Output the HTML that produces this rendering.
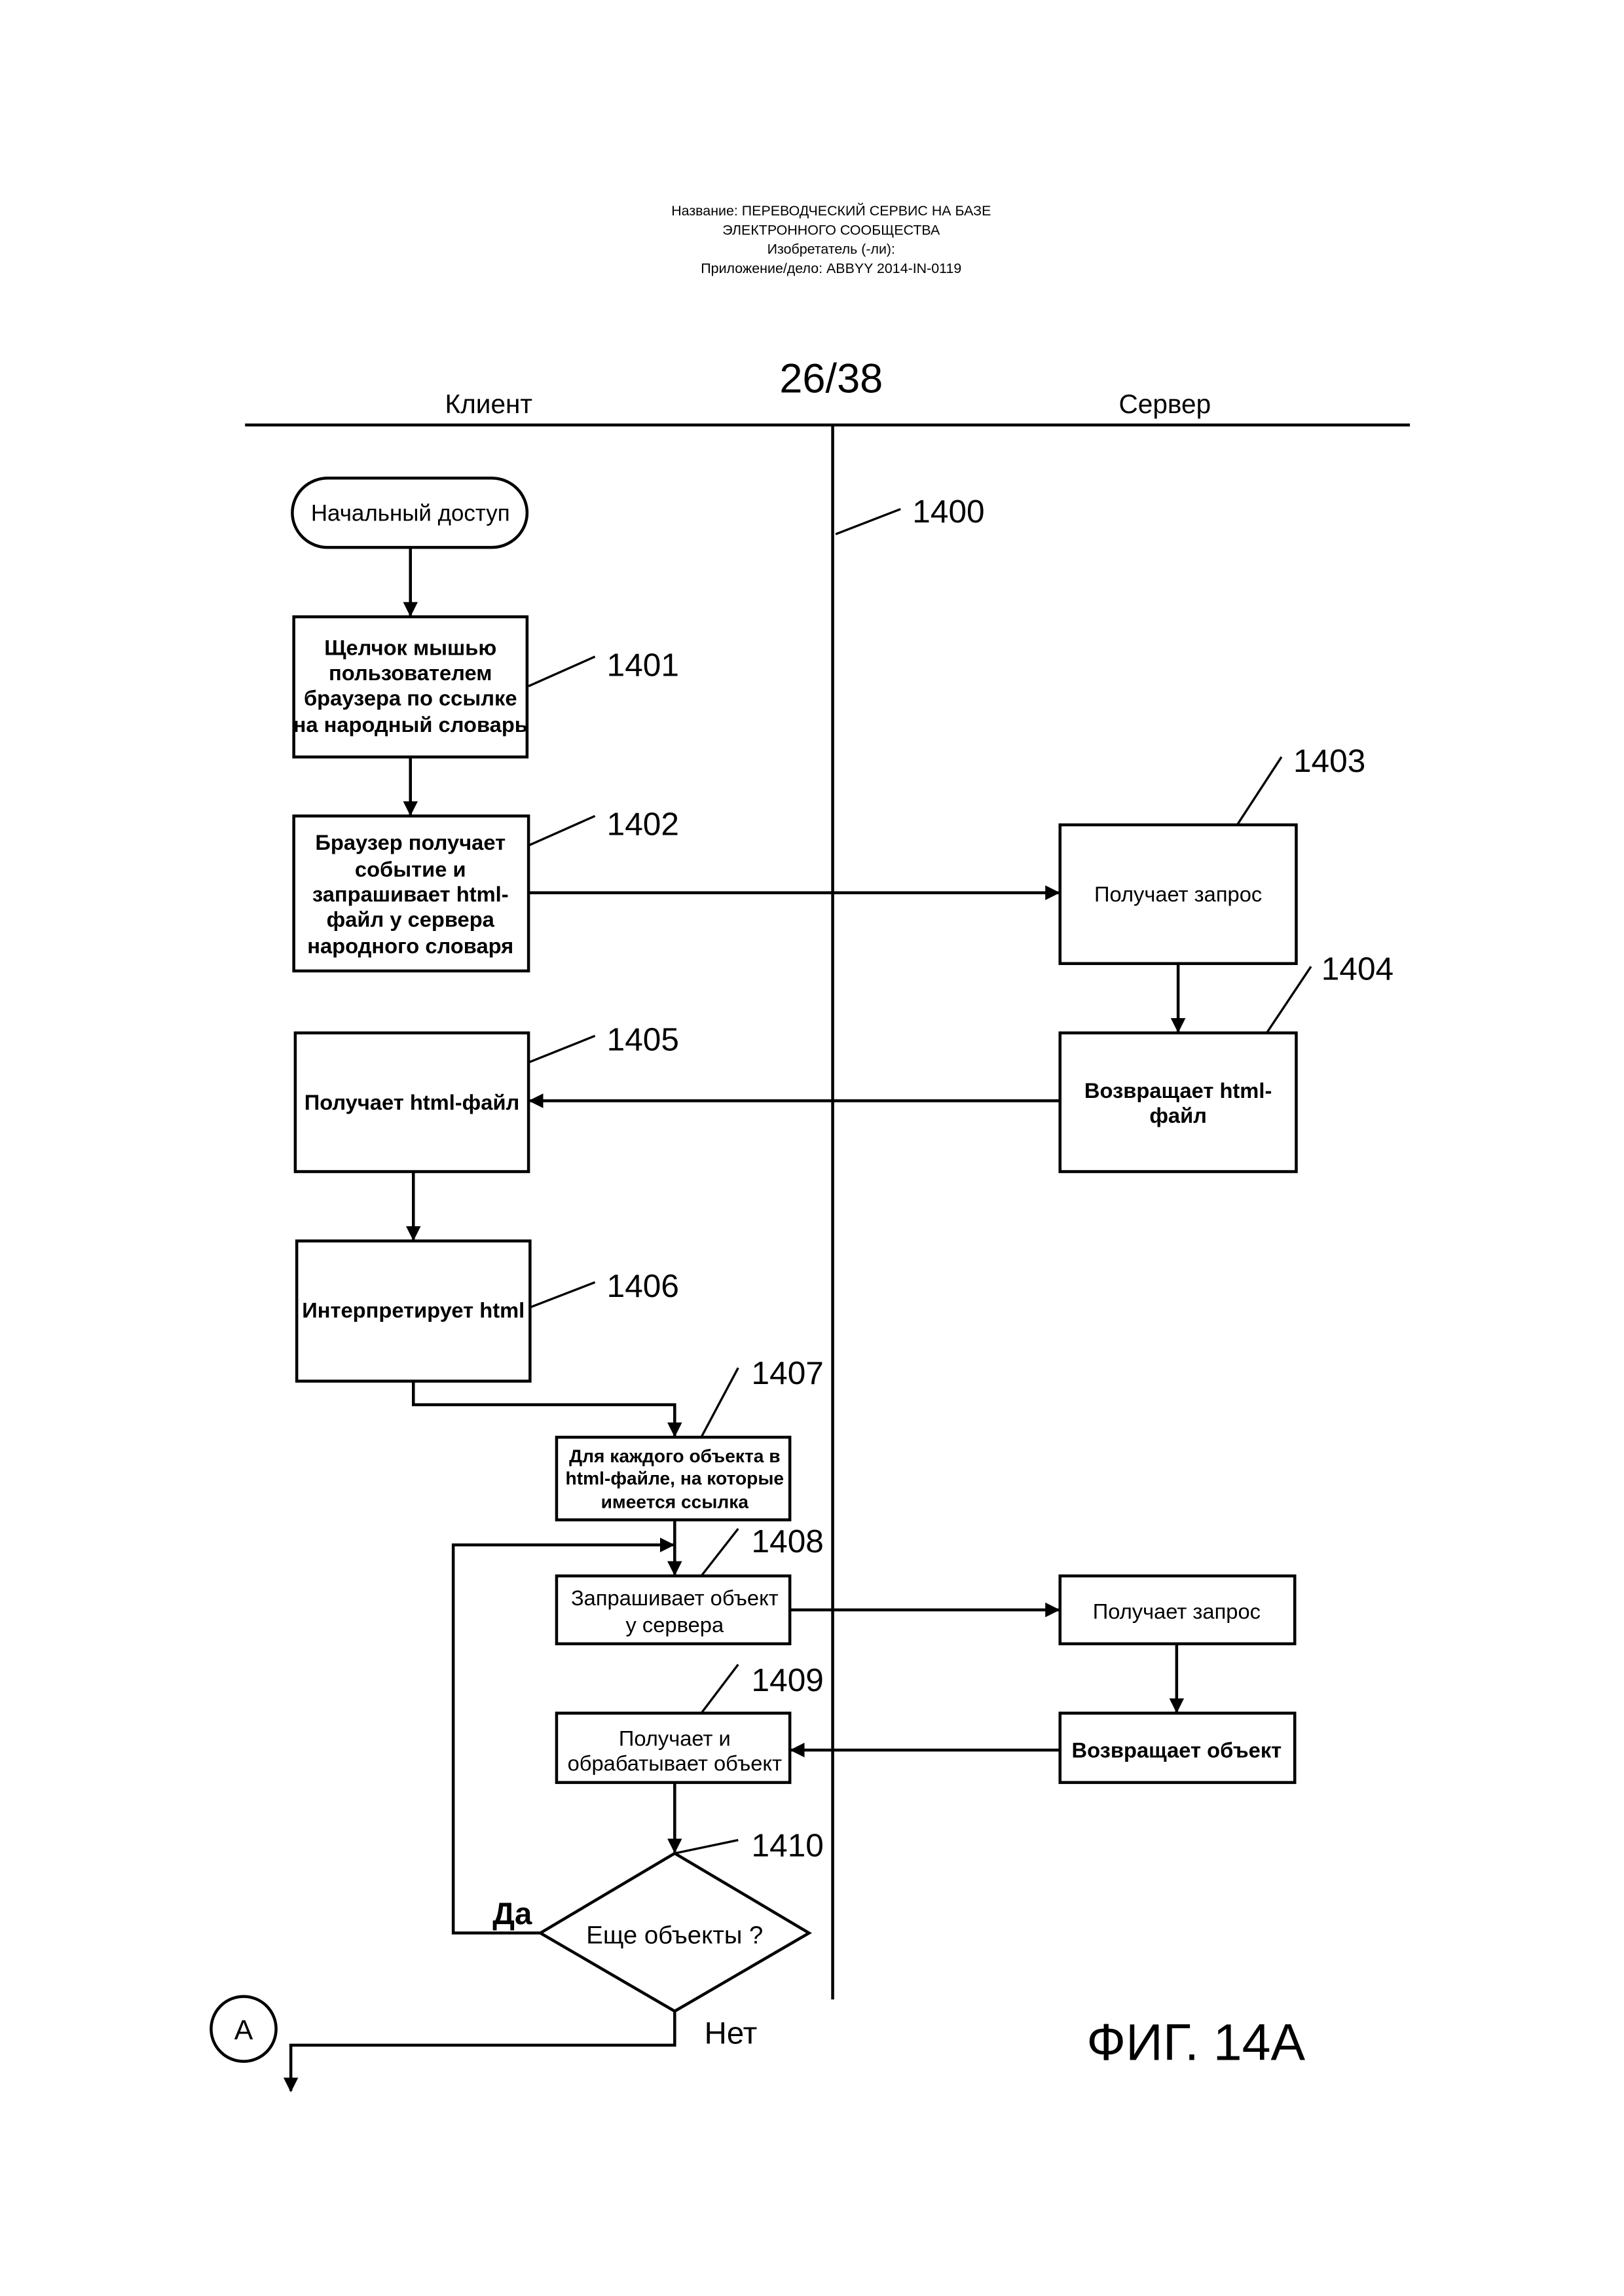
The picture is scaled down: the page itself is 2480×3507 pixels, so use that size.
<!DOCTYPE html>
<html><head><meta charset="utf-8"><style>
html,body{margin:0;padding:0;background:#fff}
svg{display:block}
text{font-family:"Liberation Sans Narrow","Liberation Sans",sans-serif;fill:#000}
</style></head><body>
<svg width="2480" height="3507" viewBox="0 0 1100 1556" preserveAspectRatio="none" xmlns="http://www.w3.org/2000/svg">
<defs><marker id="a" markerWidth="10" markerHeight="10" refX="9" refY="5" orient="auto" markerUnits="userSpaceOnUse"><path d="M0,0 L10,5 L0,10 z" fill="#000"/></marker></defs>
<g text-anchor="middle" font-size="9.5">
<text x="563" y="146">Название:  ПЕРЕВОДЧЕСКИЙ СЕРВИС НА БАЗЕ</text>
<text x="563" y="159">ЭЛЕКТРОННОГО СООБЩЕСТВА</text>
<text x="563" y="172">Изобретатель (-ли):</text>
<text x="563" y="185">Приложение/дело:  ABBYY 2014-IN-0119</text>
<text x="563" y="266" font-size="28">26/38</text>
<text x="331" y="280" font-size="18">Клиент</text>
<text x="789" y="280" font-size="18">Сервер</text>
</g>
<g stroke="#000" stroke-width="2" fill="none">
<line x1="166" y1="288" x2="955" y2="288"/>
<line x1="564" y1="288" x2="564" y2="1355"/>
<line x1="566" y1="362" x2="610" y2="345" stroke-width="1.5"/>
<rect x="198" y="324" width="159" height="47" rx="24"/>
<line x1="278" y1="371" x2="278" y2="417" marker-end="url(#a)"/>
<rect x="199" y="418" width="158" height="95"/>
<line x1="358" y1="465" x2="403" y2="445" stroke-width="1.5"/>
<line x1="278" y1="513" x2="278" y2="552" marker-end="url(#a)"/>
<rect x="199" y="553" width="159" height="105"/>
<line x1="358" y1="573" x2="403" y2="553" stroke-width="1.5"/>
<line x1="358" y1="605" x2="717" y2="605" marker-end="url(#a)"/>
<rect x="718" y="559" width="160" height="94"/>
<line x1="838" y1="559" x2="868" y2="513" stroke-width="1.5"/>
<line x1="798" y1="653" x2="798" y2="699" marker-end="url(#a)"/>
<rect x="718" y="700" width="160" height="94"/>
<line x1="858" y1="700" x2="888" y2="655" stroke-width="1.5"/>
<line x1="718" y1="746" x2="359" y2="746" marker-end="url(#a)"/>
<rect x="200" y="700" width="158" height="94"/>
<line x1="358" y1="720" x2="403" y2="702" stroke-width="1.5"/>
<line x1="280" y1="794" x2="280" y2="840" marker-end="url(#a)"/>
<rect x="201" y="841" width="158" height="95"/>
<line x1="359" y1="886" x2="403" y2="869" stroke-width="1.5"/>
<polyline points="280,936 280,952 457,952 457,973" marker-end="url(#a)"/>
<rect x="377" y="974" width="158" height="56"/>
<line x1="475" y1="974" x2="500" y2="927" stroke-width="1.5"/>
<line x1="457" y1="1030" x2="457" y2="1067" marker-end="url(#a)"/>
<polyline points="366,1310 307,1310 307,1047 456,1047" marker-end="url(#a)"/>
<rect x="377" y="1068" width="158" height="46"/>
<line x1="475" y1="1068" x2="500" y2="1036" stroke-width="1.5"/>
<line x1="535" y1="1091" x2="717" y2="1091" marker-end="url(#a)"/>
<rect x="718" y="1068" width="159" height="46"/>
<line x1="797" y1="1114" x2="797" y2="1160" marker-end="url(#a)"/>
<rect x="718" y="1161" width="159" height="47"/>
<line x1="718" y1="1186" x2="536" y2="1186" marker-end="url(#a)"/>
<rect x="377" y="1161" width="158" height="47"/>
<line x1="475" y1="1161" x2="500" y2="1128" stroke-width="1.5"/>
<line x1="457" y1="1208" x2="457" y2="1255" marker-end="url(#a)"/>
<polygon points="457,1256 548,1310 457,1363 366,1310"/>
<line x1="457" y1="1256" x2="500" y2="1247" stroke-width="1.5"/>
<polyline points="457,1363 457,1386 197,1386 197,1417" marker-end="url(#a)"/>
<circle cx="165" cy="1375" r="22"/>
</g>
<g font-size="22">
<text x="618" y="354">1400</text>
<text x="411" y="458">1401</text>
<text x="411" y="566">1402</text>
<text x="876" y="523">1403</text>
<text x="895" y="664">1404</text>
<text x="411" y="712">1405</text>
<text x="411" y="879">1406</text>
<text x="509" y="938">1407</text>
<text x="509" y="1052">1408</text>
<text x="509" y="1146">1409</text>
<text x="509" y="1258">1410</text>
</g>
<g text-anchor="middle" font-size="14.5" font-weight="bold">
<text x="278" y="353" font-weight="normal" font-size="15.5">Начальный доступ</text>
<text x="278" y="444">Щелчок мышью</text>
<text x="278" y="461">пользователем</text>
<text x="278" y="478">браузера по ссылке</text>
<text x="278" y="496">на народный словарь</text>
<text x="278" y="576">Браузер получает</text>
<text x="278" y="594">событие и</text>
<text x="278" y="611">запрашивает html-</text>
<text x="278" y="628">файл у сервера</text>
<text x="278" y="646">народного словаря</text>
<text x="798" y="611" font-weight="normal">Получает запрос</text>
<text x="798" y="744">Возвращает html-</text>
<text x="798" y="761">файл</text>
<text x="279" y="752">Получает html-файл</text>
<text x="280" y="893">Интерпретирует html</text>
<g font-size="12.5"><text x="457" y="991">Для каждого объекта в</text>
<text x="457" y="1006">html-файле, на которые</text>
<text x="457" y="1022">имеется ссылка</text></g>
<text x="457" y="1088" font-weight="normal">Запрашивает объект</text>
<text x="457" y="1106" font-weight="normal">у сервера</text>
<text x="797" y="1097" font-weight="normal">Получает запрос</text>
<text x="797" y="1191">Возвращает объект</text>
<text x="457" y="1183" font-weight="normal">Получает и</text>
<text x="457" y="1200" font-weight="normal">обрабатывает объект</text>
<text x="457" y="1317" font-weight="normal" font-size="17">Еще объекты ?</text>
<text x="347" y="1304" font-size="21">Да</text>
<text x="495" y="1385" font-size="21" font-weight="normal">Нет</text>
<text x="165" y="1382" font-size="19" font-weight="normal">A</text>
<text x="810" y="1396" font-size="35" font-weight="normal">ФИГ. 14А</text>
</g>
</svg>
</body></html>
